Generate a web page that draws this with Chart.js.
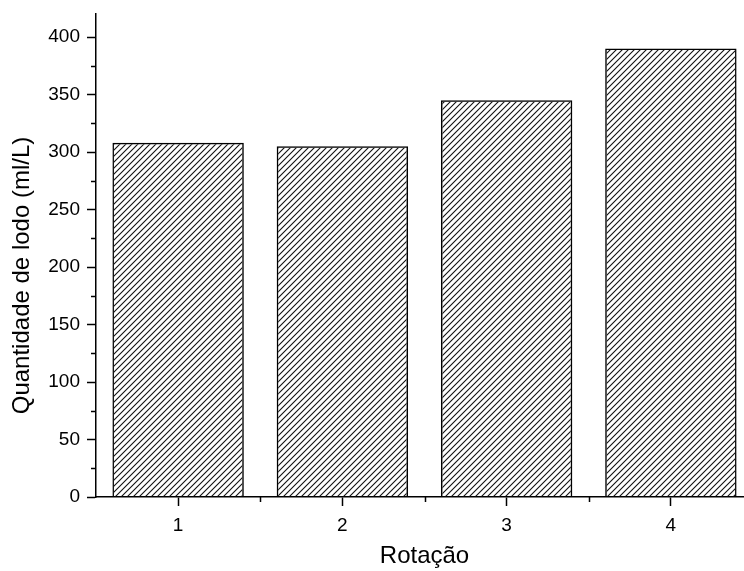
<!DOCTYPE html>
<html>
<head>
<meta charset="utf-8">
<script src="https://cdn.jsdelivr.net/npm/chart.js@4/dist/chart.umd.min.js"></script>
<style>
  html, body { margin: 0; padding: 0; background: #fff; overflow: hidden; }
  #wrap { width: 744px; height: 571px; overflow: hidden; }
</style>
</head>
<body>
<div id="wrap"><canvas id="chart" width="753" height="571"></canvas></div>
<script>
const rotacoes = ['1', '2', '3', '4'];
const lodo = [308, 305, 345, 390];
const yMinorTicks = [25, 75, 125, 175, 225, 275, 325, 375];

// hatch fill like the original plot
function hatch() {
    const c = document.createElement('canvas');
    c.width = 6;
    c.height = 6;
    const g = c.getContext('2d');
    g.strokeStyle = '#111';
    g.lineWidth = 1.1;
    g.beginPath();
    g.moveTo(0, 6); g.lineTo(6, 0);
    g.moveTo(-1, 1); g.lineTo(1, -1);
    g.moveTo(5, 7); g.lineTo(7, 5);
    g.stroke();
    return g.createPattern(c, 'repeat');
}

// short minor ticks on both axes
const minorTicks = {
    id: 'minorTicks',
    afterDraw(chart) {
        const ctx = chart.ctx;
        const x = chart.scales.x, y = chart.scales.y;
        ctx.save();
        ctx.strokeStyle = '#000';
        ctx.lineWidth = 1.5;
        ctx.beginPath();
        yMinorTicks.forEach(v => {
            const py = Math.round(y.getPixelForValue(v)) + 0.5;
            ctx.moveTo(x.left - 5, py);
            ctx.lineTo(x.left, py);
        });
        for (let i = 0; i < rotacoes.length - 1; i++) {
            const px = Math.round((x.getPixelForValue(i) + x.getPixelForValue(i + 1)) / 2) + 0.5;
            ctx.moveTo(px, y.bottom);
            ctx.lineTo(px, y.bottom + 5);
        }
        ctx.stroke();
        ctx.restore();
    }
};

const ctx = document.getElementById('chart').getContext('2d');
new Chart(ctx, {
    type: 'bar',
    data: {
        labels: rotacoes,
        datasets: [{
            data: lodo,
            backgroundColor: hatch(),
            borderColor: '#000',
            borderWidth: 1.5,
            categoryPercentage: 1,
            barPercentage: 0.8
        }]
    },
    options: {
        responsive: false,
        animation: false,
        layout: { padding: { top: 14, left: 0, right: 0, bottom: 0 } },
        plugins: { legend: { display: false }, tooltip: { enabled: false } },
        scales: {
            x: {
                afterFit: s => { s.height = 74; s.paddingLeft = 0; s.paddingRight = 0; },
                border: { display: true, color: '#000', width: 1.5 },
                grid: { offset: false, drawOnChartArea: false, drawTicks: true, tickLength: 9, tickColor: '#000', tickWidth: 1.5 },
                ticks: { color: '#000', padding: 8, font: { family: 'Liberation Sans', size: 19 } },
                title: {
                    display: true,
                    text: 'Rotação',
                    color: '#000',
                    padding: { top: 0, bottom: 0 },
                    font: { family: 'Liberation Sans', size: 24 }
                }
            },
            y: {
                min: 0,
                max: 420,
                afterFit: s => { s.width = 96; s.paddingTop = 0; s.paddingBottom = 0; },
                afterBuildTicks: s => { s.ticks = s.ticks.filter(t => t.value % 50 === 0); },
                border: { display: true, color: '#000', width: 1.5 },
                grid: { drawOnChartArea: false, drawTicks: true, tickLength: 9, tickColor: '#000', tickWidth: 1.5 },
                ticks: { stepSize: 50, color: '#000', padding: 7, font: { family: 'Liberation Sans', size: 19 } },
                title: {
                    display: true,
                    text: 'Quantidade de lodo (ml/L)\u00a0\u00a0\u00a0\u00a0\u00a0\u00a0',
                    color: '#000',
                    padding: { top: 8, bottom: 0 },
                    font: { family: 'Liberation Sans', size: 24 }
                }
            }
        }
    },
    plugins: [minorTicks]
});
</script>
</body>
</html>
